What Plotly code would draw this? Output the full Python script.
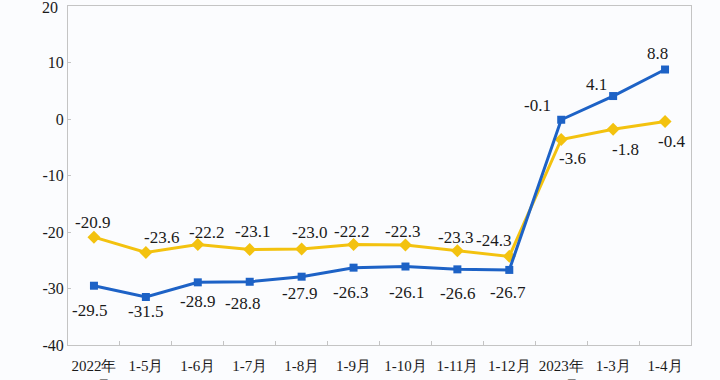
import plotly.graph_objects as go

categories = ["2022年<br>1-4月", "1-5月", "1-6月", "1-7月", "1-8月", "1-9月", "1-10月",
              "1-11月", "1-12月", "2023年<br>1-2月", "1-3月", "1-4月"]
blue_vals = [-29.5, -31.5, -28.9, -28.8, -27.9, -26.3, -26.1, -26.6, -26.7, -0.1, 4.1, 8.8]
yellow_vals = [-20.9, -23.6, -22.2, -23.1, -23.0, -22.2, -22.3, -23.3, -24.3, -3.6, -1.8, -0.4]
y_tickvals = [-40, -30, -20, -10, 0, 10, 20]
y_ticktext = ["-40", "-30", "-20", "-10", "0", "10", "20"]

# label pixel offsets (style)
blue_off = [(-4, -25), (0, -14), (0, -19), (-7, -22), (-2, -17), (-3, -25), (1, -26),
            (0, -24), (-1, -23), (-24, 14), (-17, 12), (-8, 16)]
yellow_off = [(-1, 15), (16, 15), (9, 12), (3, 18), (8, 17), (-2, 13), (-3, 14),
              (-2, 13), (-16, 16), (11, -19), (12, -20), (6, -20)]

BLUE = "#1d62c6"
YELLOW = "#f3c20f"
SERIF = "Liberation Serif"

fig = go.Figure()
fig.add_trace(go.Scatter(x=categories, y=yellow_vals, mode="lines+markers",
                         line=dict(color=YELLOW, width=3),
                         marker=dict(symbol="diamond", size=10, color=YELLOW),
                         showlegend=False))
fig.add_trace(go.Scatter(x=categories, y=blue_vals, mode="lines+markers",
                         line=dict(color=BLUE, width=3),
                         marker=dict(symbol="square", size=8, color=BLUE),
                         showlegend=False))

annotations = []
for vals, offs in ((blue_vals, blue_off), (yellow_vals, yellow_off)):
    for c, v, (dx, dy) in zip(categories, vals, offs):
        annotations.append(dict(x=c, y=v, text=f"{v:.1f}", showarrow=False,
                                xshift=dx, yshift=dy,
                                font=dict(family=SERIF, size=17, color="#1a1a1a")))
# top tick label (plotly hides it since it overflows the figure edge)
annotations.append(dict(xref="paper", x=0, yref="y", y=y_tickvals[-1],
                        text=y_ticktext[-1], showarrow=False, xanchor="right",
                        xshift=-8, yshift=-1,
                        font=dict(family=SERIF, size=16, color="#1a1a1a")))

fig.update_layout(
    width=720, height=380,
    margin=dict(l=68, r=29, t=6, b=35),
    paper_bgcolor="#fbfcfe", plot_bgcolor="#fbfcfe",
    annotations=annotations,
    font=dict(family=SERIF, size=14, color="#1a1a1a"),
)
fig.update_xaxes(type="category", range=[-0.5, len(categories) - 0.5],
                 showgrid=False, showline=True, mirror=True,
                 linecolor="#c4c4c4", linewidth=1, ticks="inside", ticklen=4,
                 tickcolor="#c4c4c4", tickson="boundaries", automargin=False,
                 tickangle=0, ticklabelstandoff=7,
                 tickfont=dict(family=SERIF, size=15, color="#1a1a1a"))
fig.update_yaxes(range=[-40, 20.05], tickmode="array", tickvals=y_tickvals,
                 ticktext=y_ticktext, showgrid=False, zeroline=False,
                 showline=True, mirror=True, linecolor="#c4c4c4", linewidth=1,
                 ticks="inside", ticklen=3, tickcolor="#c4c4c4", automargin=False,
                 tickfont=dict(family=SERIF, size=16, color="#1a1a1a"))

fig.write_html("out.html", config={"displayModeBar": False},
               post_script="document.body.style.margin='0';")
